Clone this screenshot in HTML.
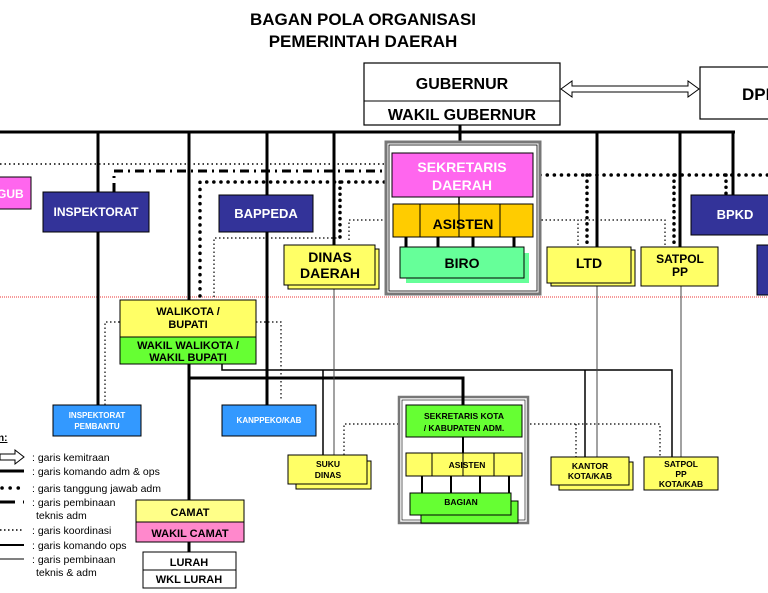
<!DOCTYPE html>
<html><head><meta charset="utf-8"><style>
html,body{margin:0;padding:0;background:#fff;width:768px;height:593px;overflow:hidden}
svg{display:block;font-family:"Liberation Sans",sans-serif;font-weight:bold}
</style></head><body>
<svg width="768" height="593" viewBox="0 0 768 593" xmlns="http://www.w3.org/2000/svg">
<text x="363" y="25" font-size="17" text-anchor="middle">BAGAN POLA ORGANISASI</text>
<text x="363" y="47" font-size="17" text-anchor="middle">PEMERINTAH DAERAH</text>

<!-- red dotted separator -->
<line x1="0" y1="297" x2="768" y2="297" stroke="#e33" stroke-width="1" stroke-dasharray="1,1"/>

<!-- main thick lines -->
<g stroke="#000" stroke-width="3" fill="none">
<line x1="0" y1="132" x2="735" y2="132"/>
<line x1="460" y1="125" x2="460" y2="153"/>
<line x1="98" y1="132" x2="98" y2="405"/>
<line x1="189" y1="132" x2="189" y2="300"/>
<line x1="267" y1="132" x2="267" y2="405"/>
<line x1="334" y1="132" x2="334" y2="245"/>
<line x1="597" y1="132" x2="597" y2="247"/>
<line x1="680" y1="132" x2="680" y2="247"/>
<line x1="733" y1="132" x2="733" y2="196"/>
<line x1="189" y1="364" x2="189" y2="500"/>
<polyline points="189,378 463,378 463,405"/>
<line x1="189" y1="552" x2="189" y2="542"/>
<line x1="460" y1="437" x2="460" y2="453"/>
</g>
<g stroke="#000" stroke-width="1.5" fill="none">
<polyline points="222,364 222,370 672,370 672,457"/>
<line x1="585" y1="370" x2="585" y2="457"/>
<line x1="323" y1="370" x2="323" y2="455"/>
</g>
<g stroke="#444" stroke-width="1" fill="none">
<line x1="597" y1="283" x2="597" y2="457"/>
<line x1="681" y1="286" x2="681" y2="457"/>
<line x1="334" y1="285" x2="334" y2="455"/>
</g>

<!-- dotted lines -->
<g stroke="#000" fill="none">
<line x1="0" y1="164" x2="386" y2="164" stroke-width="1.5" stroke-dasharray="1.5,3"/>
<polyline points="114,192 114,171 390,171" stroke-width="3" stroke-dasharray="9,5,2,5"/>
<polyline points="200,296 200,182 392,182" stroke-width="3.5" stroke-dasharray="0.1,7" stroke-linecap="round"/>
<line x1="340" y1="182" x2="340" y2="240" stroke-width="3.5" stroke-dasharray="0.1,6" stroke-linecap="round"/>
<line x1="533" y1="175" x2="768" y2="175" stroke-width="3.5" stroke-dasharray="0.1,7" stroke-linecap="round"/>
<line x1="587" y1="175" x2="587" y2="245" stroke-width="3.5" stroke-dasharray="0.1,6" stroke-linecap="round"/>
<line x1="674" y1="175" x2="674" y2="245" stroke-width="3.5" stroke-dasharray="0.1,6" stroke-linecap="round"/>
<line x1="726" y1="175" x2="726" y2="195" stroke-width="3.5" stroke-dasharray="0.1,6" stroke-linecap="round"/>
<g stroke-width="1.2" stroke-dasharray="1.5,2.5">
<polyline points="214,297 214,238 340,238"/>
<polyline points="349,240 349,220 392,220"/>
<polyline points="578,245 578,220 533,220"/>
<polyline points="665,245 665,220 578,220"/>
<polyline points="105,405 105,322 120,322"/>
<polyline points="256,322 281,322 281,400"/>
<polyline points="344,455 344,424 406,424"/>
<polyline points="522,424 660,424 660,457"/>
<line x1="576" y1="424" x2="576" y2="457"/>
</g>
</g>

<!-- gubernur -->
<rect x="364" y="63" width="196" height="62" fill="#fff" stroke="#000" stroke-width="1.2"/>
<line x1="364" y1="101" x2="560" y2="101" stroke="#000"/>
<text x="462" y="89" font-size="16" text-anchor="middle">GUBERNUR</text>
<text x="462" y="120" font-size="16" text-anchor="middle">WAKIL GUBERNUR</text>
<!-- double arrow -->
<g fill="#fff" stroke="#000" stroke-width="1">
<polygon points="561,89 572,81 572,86 688,86 688,81 699,89 688,97 688,92 572,92 572,97"/>
</g>
<rect x="700" y="67" width="80" height="52" fill="#fff" stroke="#000" stroke-width="1.2"/>
<text x="742" y="100" font-size="17">DPRD</text>

<!-- sekda group -->
<rect x="386" y="142" width="154" height="152" fill="#fff" stroke="#777" stroke-width="3"/>
<rect x="389" y="145" width="148" height="146" fill="none" stroke="#000" stroke-width="0.8"/>
<rect x="392" y="153" width="141" height="44" fill="#ff66ee" stroke="#000"/>
<text x="462" y="172" font-size="14" fill="#fff" text-anchor="middle">SEKRETARIS</text>
<text x="462" y="190" font-size="14" fill="#fff" text-anchor="middle">DAERAH</text>
<line x1="459" y1="197" x2="459" y2="204" stroke="#000" stroke-width="1.5"/>
<rect x="393" y="204" width="140" height="33" fill="#ffcc00" stroke="#000"/>
<g stroke="#000"><line x1="420" y1="204" x2="420" y2="237"/><line x1="459" y1="204" x2="459" y2="237"/><line x1="500" y1="204" x2="500" y2="237"/></g>
<text x="463" y="229" font-size="14" text-anchor="middle">ASISTEN</text>
<g stroke="#000" stroke-width="3"><line x1="406" y1="237" x2="406" y2="247"/><line x1="438" y1="237" x2="438" y2="247"/><line x1="473" y1="237" x2="473" y2="247"/><line x1="514" y1="237" x2="514" y2="247"/></g>
<rect x="406" y="253" width="123" height="30" fill="#66ff99"/>
<rect x="400" y="247" width="124" height="31" fill="#66ff99" stroke="#000"/>
<text x="462" y="268" font-size="14" text-anchor="middle">BIRO</text>

<!-- navy boxes -->
<rect x="-2" y="177" width="33" height="32" fill="#ff66ee" stroke="#000"/>
<text x="-3" y="198" font-size="12" fill="#fff">GUB</text>
<rect x="43" y="192" width="106" height="40" fill="#333399" stroke="#000"/>
<text x="96" y="216" font-size="12" fill="#fff" text-anchor="middle">INSPEKTORAT</text>
<rect x="219" y="195" width="94" height="37" fill="#333399" stroke="#000"/>
<text x="266" y="218" font-size="13" fill="#fff" text-anchor="middle">BAPPEDA</text>
<rect x="691" y="195" width="80" height="40" fill="#333399" stroke="#000"/>
<text x="735" y="219" font-size="13" fill="#fff" text-anchor="middle">BPKD</text>
<rect x="757" y="245" width="14" height="50" fill="#333399" stroke="#000"/>

<!-- yellow province boxes -->
<rect x="288" y="249" width="91" height="40" fill="#ffff66" stroke="#000"/>
<rect x="284" y="245" width="91" height="40" fill="#ffff66" stroke="#000"/>
<text x="330" y="262" font-size="14" text-anchor="middle">DINAS</text>
<text x="330" y="278" font-size="14" text-anchor="middle">DAERAH</text>
<rect x="551" y="250" width="84" height="36" fill="#ffff66" stroke="#000"/>
<rect x="547" y="247" width="84" height="36" fill="#ffff66" stroke="#000"/>
<text x="589" y="268" font-size="14" text-anchor="middle">LTD</text>
<rect x="641" y="247" width="77" height="39" fill="#ffff66" stroke="#000"/>
<text x="680" y="263" font-size="12" text-anchor="middle">SATPOL</text>
<text x="680" y="276" font-size="12" text-anchor="middle">PP</text>

<!-- walikota -->
<rect x="120" y="300" width="136" height="37" fill="#ffff66" stroke="#000"/>
<text x="188" y="315" font-size="11" text-anchor="middle">WALIKOTA /</text>
<text x="188" y="328" font-size="11" text-anchor="middle">BUPATI</text>
<rect x="120" y="337" width="136" height="27" fill="#66ff33" stroke="#000"/>
<text x="188" y="349" font-size="11" text-anchor="middle">WAKIL WALIKOTA /</text>
<text x="188" y="361" font-size="11" text-anchor="middle">WAKIL BUPATI</text>

<!-- blue kab boxes -->
<rect x="53" y="405" width="88" height="31" fill="#3399ff" stroke="#000"/>
<text x="97" y="418" font-size="8" fill="#fff" text-anchor="middle">INSPEKTORAT</text>
<text x="97" y="429" font-size="8" fill="#fff" text-anchor="middle">PEMBANTU</text>
<rect x="222" y="405" width="94" height="31" fill="#3399ff" stroke="#000"/>
<text x="269" y="423" font-size="8" fill="#fff" text-anchor="middle">KANPPEKO/KAB</text>

<!-- sekkota group -->
<rect x="399" y="397" width="129" height="126" fill="#fff" stroke="#777" stroke-width="2.5"/>
<rect x="402" y="400" width="123" height="120" fill="none" stroke="#000" stroke-width="0.6"/>
<line x1="463" y1="378" x2="463" y2="405" stroke="#000" stroke-width="3"/>
<rect x="406" y="405" width="116" height="32" fill="#66ff33" stroke="#000"/>
<text x="464" y="419" font-size="8.5" text-anchor="middle">SEKRETARIS KOTA</text>
<text x="464" y="431" font-size="8.5" text-anchor="middle">/ KABUPATEN ADM.</text>
<line x1="463" y1="437" x2="463" y2="453" stroke="#000" stroke-width="2"/>
<rect x="406" y="453" width="116" height="23" fill="#ffff66" stroke="#000"/>
<g stroke="#000"><line x1="432" y1="453" x2="432" y2="476"/><line x1="463" y1="453" x2="463" y2="476"/><line x1="494" y1="453" x2="494" y2="476"/></g>
<text x="467" y="468" font-size="8.5" text-anchor="middle">ASISTEN</text>
<g stroke="#000" stroke-width="2"><line x1="422" y1="476" x2="422" y2="493"/><line x1="451" y1="476" x2="451" y2="493"/><line x1="480" y1="476" x2="480" y2="493"/><line x1="509" y1="476" x2="509" y2="493"/></g>
<rect x="421" y="501" width="97" height="22" fill="#66ff33" stroke="#000"/>
<rect x="410" y="493" width="101" height="22" fill="#66ff33" stroke="#000"/>
<text x="461" y="505" font-size="8.5" text-anchor="middle">BAGIAN</text>

<!-- yellow kab boxes -->
<rect x="296" y="461" width="75" height="28" fill="#ffff66" stroke="#000"/>
<rect x="288" y="455" width="79" height="29" fill="#ffff66" stroke="#000"/>
<text x="328" y="467" font-size="8.5" text-anchor="middle">SUKU</text>
<text x="328" y="478" font-size="8.5" text-anchor="middle">DINAS</text>
<rect x="559" y="462" width="74" height="28" fill="#ffff66" stroke="#000"/>
<rect x="551" y="457" width="78" height="28" fill="#ffff66" stroke="#000"/>
<text x="590" y="469" font-size="8.5" text-anchor="middle">KANTOR</text>
<text x="590" y="479" font-size="8.5" text-anchor="middle">KOTA/KAB</text>
<rect x="644" y="457" width="74" height="33" fill="#ffff66" stroke="#000"/>
<text x="681" y="467" font-size="8.5" text-anchor="middle">SATPOL</text>
<text x="681" y="477" font-size="8.5" text-anchor="middle">PP</text>
<text x="681" y="487" font-size="8.5" text-anchor="middle">KOTA/KAB</text>

<!-- camat / lurah -->
<rect x="136" y="500" width="108" height="22" fill="#ffff88" stroke="#000"/>
<text x="190" y="516" font-size="11" text-anchor="middle">CAMAT</text>
<rect x="136" y="522" width="108" height="20" fill="#ff88cc" stroke="#000"/>
<text x="190" y="537" font-size="11" text-anchor="middle">WAKIL CAMAT</text>
<rect x="143" y="552" width="93" height="36" fill="#fff" stroke="#000"/>
<line x1="143" y1="570" x2="236" y2="570" stroke="#000"/>
<text x="189" y="566" font-size="11" text-anchor="middle">LURAH</text>
<text x="189" y="583" font-size="11" text-anchor="middle">WKL LURAH</text>

<!-- legend -->
<text x="-2" y="441" font-size="10" text-decoration="underline">n:</text>
<polygon points="0,454 15,454 15,450 24,457 15,464 15,460 0,460" fill="#fff" stroke="#000"/>
<line x1="0" y1="471" x2="24" y2="471" stroke="#000" stroke-width="3"/>
<line x1="2" y1="488" x2="24" y2="488" stroke="#000" stroke-width="3.5" stroke-dasharray="0.1,8" stroke-linecap="round"/>
<line x1="0" y1="502" x2="15" y2="502" stroke="#000" stroke-width="3"/><line x1="23" y1="502" x2="24" y2="502" stroke="#000" stroke-width="3"/>
<line x1="0" y1="530" x2="24" y2="530" stroke="#000" stroke-width="1.5" stroke-dasharray="1.5,2.5"/>
<line x1="0" y1="545" x2="24" y2="545" stroke="#000" stroke-width="2"/>
<line x1="0" y1="559" x2="24" y2="559" stroke="#000" stroke-width="1"/>
<g font-weight="normal" font-size="10.5">
<text x="32" y="461">: garis kemitraan</text>
<text x="32" y="475">: garis komando adm &amp; ops</text>
<text x="32" y="492">: garis tanggung jawab adm</text>
<text x="32" y="506">: garis pembinaan</text>
<text x="36" y="519">teknis adm</text>
<text x="32" y="534">: garis koordinasi</text>
<text x="32" y="549">: garis komando ops</text>
<text x="32" y="563">: garis pembinaan</text>
<text x="36" y="576">teknis &amp; adm</text>
</g>
</svg>
</body></html>
